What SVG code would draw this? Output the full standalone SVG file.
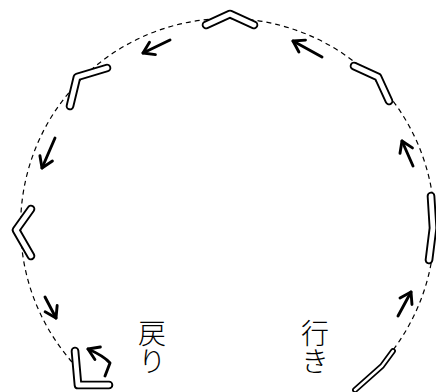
<svg xmlns="http://www.w3.org/2000/svg" width="436" height="392" viewBox="0 0 436 392">
<style>
.bo{fill:none;stroke:#000;stroke-width:8.6;stroke-linejoin:round;stroke-linecap:round}
.bw{fill:none;stroke:#fff;stroke-width:4.8;stroke-linejoin:round;stroke-linecap:round}
.ar{fill:none;stroke:#000;stroke-width:2.9;stroke-linecap:round;stroke-linejoin:round}
.path{fill:none;stroke:#000;stroke-width:1.2;stroke-dasharray:5 4}
.lbl{font-family:"Noto Sans CJK JP",sans-serif;font-size:28px;font-weight:300;fill:#000;writing-mode:vertical-rl}
</style>
<defs>
<marker id="ah" markerUnits="userSpaceOnUse" markerWidth="16" markerHeight="16" viewBox="0 0 16 16" refX="12" refY="8" orient="auto" overflow="visible">
<path d="M1.5,1.2 L12,8 L1.5,14.8" fill="none" stroke="#000" stroke-width="2.9" stroke-linecap="round" stroke-linejoin="round"/>
</marker>
</defs>
<rect width="436" height="392" fill="#fff"/>
<g id="connectors">
<path class="path" d="M72,362 A207,207 0 1 1 393,350"/>
<path class="ar" marker-end="url(#ah)" d="M398,316 L411,292"/>
<path class="ar" marker-end="url(#ah)" d="M413,166 L402,141"/>
<path class="ar" marker-end="url(#ah)" d="M322,57 L293,41"/>
<path class="ar" marker-end="url(#ah)" d="M170,40 L143,53"/>
<path class="ar" marker-end="url(#ah)" d="M55,138 L42,168"/>
<path class="ar" marker-end="url(#ah)" d="M45,297 L56,318"/>
<path class="ar" marker-end="url(#ah)" d="M105,376 L110,363 Q104,356 88,349"/>
</g>
<g id="boomerang-top"><path class="bo" d="M206,25 L230,14 L254,25"/><path class="bw" d="M206,25 L230,14 L254,25"/></g>
<g id="boomerang-upper-right"><path class="bo" d="M354,66 L378,77 L389,101"/><path class="bw" d="M354,66 L378,77 L389,101"/></g>
<g id="boomerang-upper-left"><path class="bo" d="M107,68 L77,77 L70,106"/><path class="bw" d="M107,68 L77,77 L70,106"/></g>
<g id="boomerang-left"><path class="bo" d="M31,209 L16,230 L31,256"/><path class="bw" d="M31,209 L16,230 L31,256"/></g>
<g id="boomerang-right"><path class="bo" d="M431,196 L433,228 L429,260"/><path class="bw" d="M431,196 L433,228 L429,260"/></g>
<g id="boomerang-return"><path class="bo" d="M75,351 L78,385 L109,385"/><path class="bw" d="M75,351 L78,385 L109,385"/></g>
<g id="boomerang-throw"><path class="bo" style="stroke-width:5.8" d="M393,351 L382,366 L355,390"/><path class="bw" style="stroke-width:2.4" d="M393,351 L382,366 L355,390"/></g>
<g id="label-return"><text class="lbl" x="152" y="319">戻り</text></g>
<g id="label-go"><text class="lbl" x="315" y="319">行き</text></g>
</svg>
